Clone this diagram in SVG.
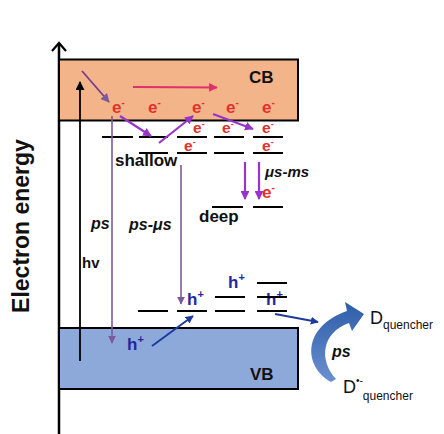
<svg xmlns="http://www.w3.org/2000/svg" width="444" height="434" viewBox="0 0 444 434">
<style>
.t{font-family:"Liberation Sans",Arial,sans-serif;font-weight:bold}
.e{fill:#E3302C;font-size:17px}
.es{fill:#E3302C;font-size:15.5px}
.h{fill:#1E2A9C;font-size:17px}
.lbl{fill:#111;font-size:17px}
.lvl{stroke:#000;stroke-width:2}
.pu{stroke:#9933CC;stroke-width:2.2;fill:none}
.vl{stroke:#7D5A9B;stroke-width:1.6;fill:none}
.bl{stroke:#1F3A9E;stroke-width:2;fill:none}
</style>
<defs>
<marker id="mPu" viewBox="0 0 10 10" refX="9" refY="5" markerWidth="4" markerHeight="4" orient="auto"><path d="M0,0 L10,5 L0,10 z" fill="#9933CC"/></marker>
<marker id="mPk" viewBox="0 0 10 10" refX="9" refY="5" markerWidth="4" markerHeight="4" orient="auto"><path d="M0,0 L10,5 L0,10 z" fill="#E0306A"/></marker>
<marker id="mVl" viewBox="0 0 10 10" refX="9" refY="5" markerWidth="5" markerHeight="5" orient="auto"><path d="M0,0 L10,5 L0,10 z" fill="#7D5A9B"/></marker>
<marker id="mBl" viewBox="0 0 10 10" refX="9" refY="5" markerWidth="4" markerHeight="4" orient="auto"><path d="M0,0 L10,5 L0,10 z" fill="#1F3A9E"/></marker>
<marker id="mBk" viewBox="0 0 10 10" refX="9" refY="5" markerWidth="5" markerHeight="5" orient="auto"><path d="M0,0 L10,5 L0,10 z" fill="#000"/></marker>
<linearGradient id="gArc" x1="0" y1="1" x2="0" y2="0"><stop offset="0" stop-color="#6A90D0"/><stop offset="1" stop-color="#2E5DA8"/></linearGradient>
</defs>
<rect width="444" height="434" fill="#fff"/>

<g id="axis">
<line x1="59" y1="434" x2="59" y2="43" stroke="#000" stroke-width="2.5"/>
<path d="M52,51 L59,43 L66,51" fill="none" stroke="#000" stroke-width="2.2"/>
<text class="t" font-size="23" fill="#111" transform="translate(29,226) rotate(-90)" text-anchor="middle">Electron energy</text>
</g>

<g id="cb">
<rect x="59" y="59.5" width="239" height="61" fill="#F3B489" stroke="#000" stroke-width="2"/>
<text class="t lbl" x="249" y="83" font-size="18">CB</text>
</g>

<g id="vb">
<rect x="59" y="328" width="239" height="61" fill="#8DA9DA" stroke="#000" stroke-width="2"/>
<text class="t lbl" x="250" y="380" font-size="18">VB</text>
</g>

<g id="electrons">
<text class="t e" x="112" y="113">e<tspan font-size="10" dy="-7">-</tspan></text>
<text class="t e" x="148" y="113">e<tspan font-size="10" dy="-7">-</tspan></text>
<text class="t e" x="192" y="113">e<tspan font-size="10" dy="-7">-</tspan></text>
<text class="t e" x="226" y="113">e<tspan font-size="10" dy="-7">-</tspan></text>
<text class="t e" x="262" y="113">e<tspan font-size="10" dy="-7">-</tspan></text>
<text class="t es" x="193" y="133">e<tspan font-size="9" dy="-6">-</tspan></text>
<text class="t es" x="222" y="133">e<tspan font-size="9" dy="-6">-</tspan></text>
<text class="t es" x="262" y="133">e<tspan font-size="9" dy="-6">-</tspan></text>
<text class="t es" x="184" y="151">e<tspan font-size="9" dy="-6">-</tspan></text>
<text class="t es" x="262" y="151">e<tspan font-size="9" dy="-6">-</tspan></text>
<text class="t e" x="262" y="198">e<tspan font-size="10" dy="-7">-</tspan></text>
</g>

<g id="holes">
<text class="t h" x="187" y="305">h<tspan font-size="11" dy="-7">+</tspan></text>
<text class="t h" x="228" y="288">h<tspan font-size="11" dy="-7">+</tspan></text>
<text class="t h" x="266" y="305">h<tspan font-size="11" dy="-7">+</tspan></text>
<text class="t h" x="127" y="350">h<tspan font-size="11" dy="-7">+</tspan></text>
</g>

<g id="shallow-traps">
<line class="lvl" x1="102" y1="137" x2="133" y2="137"/>
<line class="lvl" x1="139" y1="137" x2="168" y2="137"/>
<line class="lvl" x1="177" y1="137" x2="207" y2="137"/>
<line class="lvl" x1="214" y1="137" x2="244" y2="137"/>
<line class="lvl" x1="253" y1="137" x2="283" y2="137"/>
<line class="lvl" x1="139" y1="153" x2="168" y2="153"/>
<line class="lvl" x1="177" y1="153" x2="207" y2="153"/>
<line class="lvl" x1="214" y1="153" x2="244" y2="153"/>
<line class="lvl" x1="253" y1="153" x2="283" y2="153"/>
<text class="t lbl" x="115" y="166">shallow</text>
</g>

<g id="deep-traps">
<line class="lvl" x1="212" y1="207" x2="243" y2="207"/>
<line class="lvl" x1="253" y1="207" x2="283" y2="207"/>
<text class="t lbl" x="199" y="222">deep</text>
</g>

<g id="hole-traps">
<line class="lvl" x1="257" y1="283" x2="287" y2="283"/>
<line class="lvl" x1="215" y1="297" x2="245" y2="297"/>
<line class="lvl" x1="257" y1="297" x2="287" y2="297"/>
<line class="lvl" x1="138" y1="311" x2="168" y2="311"/>
<line class="lvl" x1="177" y1="311" x2="207" y2="311"/>
<line class="lvl" x1="215" y1="311" x2="245" y2="311"/>
<line class="lvl" x1="257" y1="311" x2="287" y2="311"/>
</g>

<g id="quencher">
<path d="M331,382 C303,366 302,327 347,311 L345,302 L364,314 L352,331 L349,323 C321,333 319,361 336,379 Z" fill="url(#gArc)"/>
<text class="t" x="332" y="357" font-size="16" font-style="italic" fill="#111">ps</text>
<text x="370" y="324" font-family="Liberation Sans,Arial,sans-serif" font-size="18" fill="#111">D<tspan font-size="12" dy="5">quencher</tspan></text>
<text x="343" y="393" font-family="Liberation Sans,Arial,sans-serif" font-size="18" fill="#111">D<tspan font-size="10" dy="-9">•-</tspan><tspan font-size="12" dy="16">quencher</tspan></text>
</g>

<g id="connectors">
<line x1="80" y1="361" x2="80" y2="82" stroke="#000" stroke-width="1.8" marker-end="url(#mBk)"/>
<line x1="82" y1="71" x2="109" y2="102" stroke="#7B3A8E" stroke-width="1.8" marker-end="url(#mVl)"/>
<line x1="133" y1="87" x2="217" y2="87.5" stroke="#E0306A" stroke-width="2.2" marker-end="url(#mPk)"/>
<line class="pu" x1="120" y1="116" x2="151" y2="136" marker-end="url(#mPu)"/>
<line class="pu" x1="159" y1="143" x2="193" y2="116" marker-end="url(#mPu)"/>
<line class="pu" x1="213" y1="114" x2="253" y2="129" marker-end="url(#mPu)"/>
<line class="pu" x1="245" y1="162" x2="245" y2="199" marker-end="url(#mPu)"/>
<line class="pu" x1="259" y1="162" x2="259" y2="199" marker-end="url(#mPu)"/>
<line class="vl" x1="112" y1="116" x2="112" y2="343" marker-end="url(#mVl)"/>
<line class="vl" x1="181" y1="165" x2="181" y2="304" marker-end="url(#mVl)"/>
<line class="bl" x1="152" y1="346" x2="193" y2="316" marker-end="url(#mBl)"/>
<line class="bl" x1="275" y1="314" x2="318" y2="322" marker-end="url(#mBl)"/>
</g>

<g id="labels">
<text class="t" x="91" y="229" font-size="16" font-style="italic" fill="#111">ps</text>
<text class="t" x="129" y="230" font-size="16" font-style="italic" fill="#111">ps-μs</text>
<text class="t" x="265" y="177" font-size="15" font-style="italic" fill="#111">μs-ms</text>
<text class="t" x="82" y="268" font-size="15" fill="#111">hv</text>
</g>
</svg>
